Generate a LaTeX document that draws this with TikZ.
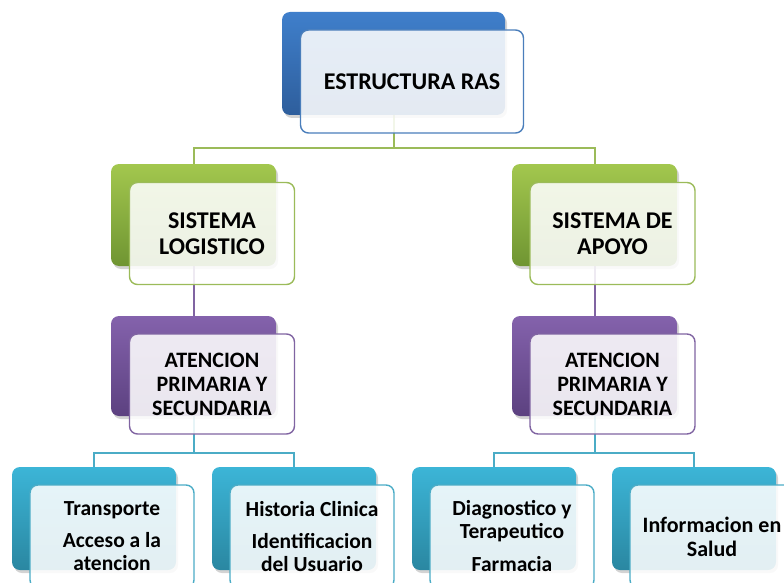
\documentclass[tikz,border=0pt]{standalone}
\usepackage{fontspec}
\setmainfont{Carlito}
\usetikzlibrary{shadows,backgrounds}
\definecolor{bT}{HTML}{3F7FCB}\definecolor{bB}{HTML}{2E5E9C}\definecolor{bL}{HTML}{4A7EBB}
\definecolor{gT}{HTML}{A3C74E}\definecolor{gB}{HTML}{6F9532}\definecolor{gL}{HTML}{9BBB59}
\definecolor{pT}{HTML}{8462AC}\definecolor{pB}{HTML}{5C4180}\definecolor{pL}{HTML}{8064A2}
\definecolor{cT}{HTML}{3CB5D7}\definecolor{cB}{HTML}{2A87A1}\definecolor{cL}{HTML}{4BACC6}
\tikzset{
  backbox/.style 2 args={draw=none,rounded corners=8pt,top color=#1,bottom color=#2,
    drop shadow={shadow xshift=2pt,shadow yshift=-3pt,opacity=0.35},inner sep=0pt},
  frontbox/.style={draw=#1,line width=1.4pt,rounded corners=8pt,fill=white,fill opacity=0.87,
    text opacity=1,inner sep=0pt,font=\bfseries\fontsize{22}{24}\selectfont,align=center},
  bigtext/.style={font=\bfseries\fontsize{24}{26}\selectfont},
  smalltext/.style={font=\bfseries\fontsize{21.5}{23}\selectfont},
  conn/.style={draw=#1,line width=2pt},
}
\begin{document}
\begin{tikzpicture}[x=1pt,y=-1pt]
\useasboundingbox (0,0) rectangle (784,583);
\clip (0,0) rectangle (784,583);
% back boxes
\node[backbox={bT}{bB},minimum width=223pt,minimum height=103pt] (topB) at (393.5,63.5) {};
\node[backbox={gT}{gB},minimum width=165pt,minimum height=102pt] (glB) at (193.5,215) {};
\node[backbox={gT}{gB},minimum width=165pt,minimum height=102pt] (grB) at (594.5,215) {};
\node[backbox={pT}{pB},minimum width=165pt,minimum height=100pt] (plB) at (193.5,366) {};
\node[backbox={pT}{pB},minimum width=165pt,minimum height=100pt] (prB) at (594.5,366) {};
\node[backbox={cT}{cB},minimum width=164pt,minimum height=103pt] (c1B) at (94,518.5) {};
\node[backbox={cT}{cB},minimum width=164pt,minimum height=103pt] (c2B) at (294,518.5) {};
\node[backbox={cT}{cB},minimum width=164pt,minimum height=103pt] (c3B) at (494,518.5) {};
\node[backbox={cT}{cB},minimum width=164pt,minimum height=103pt] (c4B) at (694,518.5) {};
% front boxes
\node[frontbox=bL,bigtext,minimum width=223pt,minimum height=103pt] (topF) at (412,81.5) {ESTRUCTURA RAS};
\node[frontbox=gL,bigtext,minimum width=165pt,minimum height=102pt] (glF) at (212,233.5) {SISTEMA\\LOGISTICO};
\node[frontbox=gL,bigtext,minimum width=165pt,minimum height=102pt] (grF) at (612.5,233.5) {SISTEMA DE\\APOYO};
\node[frontbox=pL,minimum width=165pt,minimum height=100pt] (plF) at (212,384) {ATENCION\\PRIMARIA Y\\SECUNDARIA};
\node[frontbox=pL,minimum width=165pt,minimum height=100pt] (prF) at (612.5,384) {ATENCION\\PRIMARIA Y\\SECUNDARIA};
\node[frontbox=cL,smalltext,minimum width=164pt,minimum height=103pt] (c1F) at (112,536.5) {Transporte\\[9pt]Acceso a la\\atencion};
\node[frontbox=cL,smalltext,minimum width=164pt,minimum height=103pt] (c2F) at (312,536.5) {Historia Clinica\\[9pt]Identificacion\\del Usuario};
\node[frontbox=cL,smalltext,minimum width=164pt,minimum height=103pt] (c3F) at (512,536.5) {Diagnostico y\\Terapeutico\\[10pt]Farmacia};
\node[frontbox=cL,minimum width=164pt,minimum height=103pt] (c4F) at (712,536.5) {Informacion en\\Salud};
% connectors
\begin{pgfonlayer}{background}
\draw[conn=gL] (topB.south) -- ++(0,33) coordinate (tj) -| (glB.north);
\draw[conn=gL] (tj) -| (grB.north);
\draw[conn=pL] (glB.south) -- (plB.north);
\draw[conn=pL] (grB.south) -- (prB.north);
\draw[conn=cL] (plB.south) -- ++(0,37) coordinate (lj) -| (c1B.north);
\draw[conn=cL] (lj) -| (c2B.north);
\draw[conn=cL] (prB.south) -- ++(0,37) coordinate (rj) -| (c3B.north);
\draw[conn=cL] (rj) -| (c4B.north);
\end{pgfonlayer}
\end{tikzpicture}
\end{document}
